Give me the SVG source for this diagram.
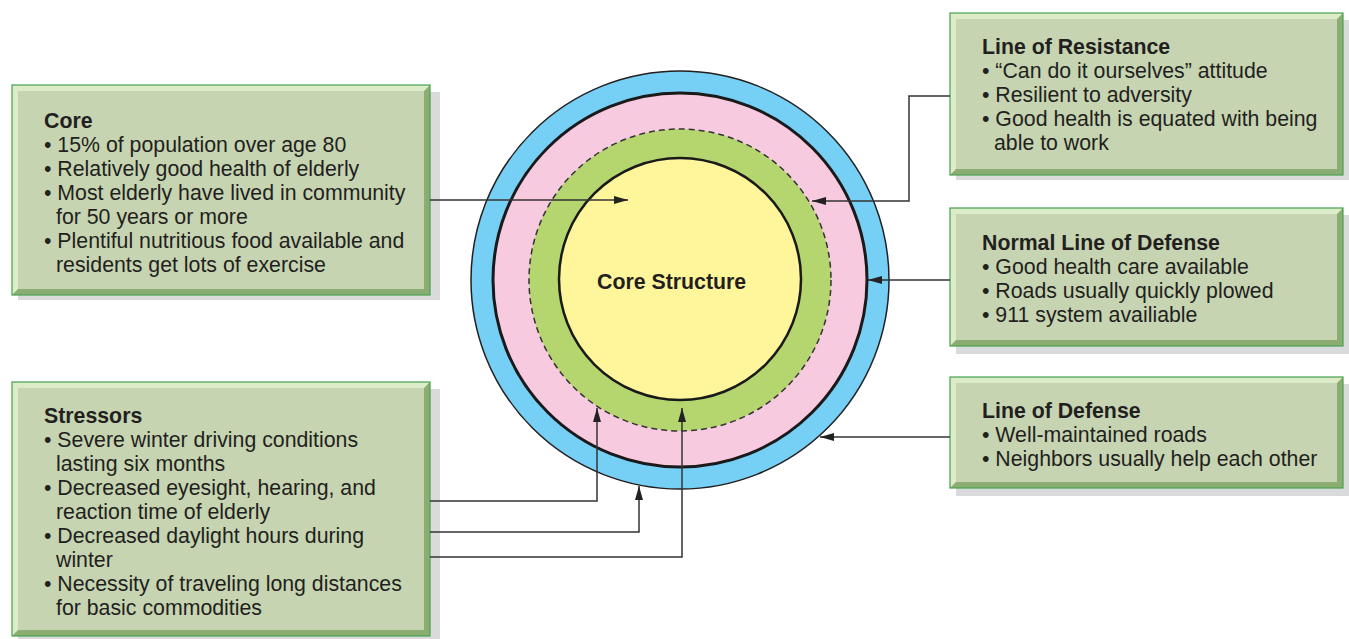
<svg xmlns="http://www.w3.org/2000/svg" width="1349" height="639" viewBox="0 0 1349 639">
<defs>
<style>
.sh{fill:#d9dadc}
.lt{fill:#dcebc8}
.dk{fill:#8cad72}
.in{fill:#c6d4b1}
.bd{fill:none;stroke:#45a24f;stroke-width:1.2}
.t{font-family:"Liberation Sans",Arial,sans-serif;font-size:21.3px;fill:#231f20}
.b{font-weight:bold}
.c{fill:none;stroke:#333;stroke-width:1.5}
</style>
<marker id="ah" viewBox="0 0 14 8" refX="14" refY="4" markerWidth="14" markerHeight="8" markerUnits="userSpaceOnUse" orient="auto">
<path d="M0,0 L14,4 L0,8 Z" fill="#222"/>
</marker>
</defs>
<rect width="1349" height="639" fill="#fff"/>

<g id="circles">
<circle cx="680" cy="280" r="209" fill="#76cff5" stroke="#231f20" stroke-width="1.5"/>
<circle cx="680" cy="280" r="187" fill="#f8cadf" stroke="#1a1a1a" stroke-width="3"/>
<circle cx="680" cy="280" r="151" fill="#b5d56f" stroke="#333" stroke-width="1.5" stroke-dasharray="6 4"/>
<circle cx="680" cy="279" r="121" fill="#fff59b" stroke="#1a1a1a" stroke-width="2.5"/>
<text class="t b" x="597" y="289">Core Structure</text>
</g>

<g id="core">
<rect class="sh" x="18" y="92" width="422" height="208"/>
<rect class="lt" x="12" y="85" width="418" height="210"/>
<polygon class="dk" points="430,85 430,295 12,295 18,289 424,289 424,91"/>
<rect class="in" x="18" y="91" width="406" height="198"/>
<rect class="bd" x="12" y="85" width="418" height="210"/>
<text class="t b" x="44" y="128">Core</text>
<text class="t" x="44" y="152">• 15% of population over age 80</text>
<text class="t" x="44" y="176">• Relatively good health of elderly</text>
<text class="t" x="44" y="200">• Most elderly have lived in community</text>
<text class="t" x="56" y="224">for 50 years or more</text>
<text class="t" x="44" y="248">• Plentiful nutritious food available and</text>
<text class="t" x="56" y="272">residents get lots of exercise</text>
</g>

<g id="stressors">
<rect class="sh" x="18" y="389" width="422" height="250"/>
<rect class="lt" x="12" y="382" width="418" height="254"/>
<polygon class="dk" points="430,382 430,636 12,636 18,630 424,630 424,388"/>
<rect class="in" x="18" y="388" width="406" height="242"/>
<rect class="bd" x="12" y="382" width="418" height="254"/>
<text class="t b" x="44" y="423">Stressors</text>
<text class="t" x="44" y="447">• Severe winter driving conditions</text>
<text class="t" x="56" y="471">lasting six months</text>
<text class="t" x="44" y="495">• Decreased eyesight, hearing, and</text>
<text class="t" x="56" y="519">reaction time of elderly</text>
<text class="t" x="44" y="543">• Decreased daylight hours during</text>
<text class="t" x="56" y="567">winter</text>
<text class="t" x="44" y="591">• Necessity of traveling long distances</text>
<text class="t" x="56" y="615">for basic commodities</text>
</g>

<g id="resistance">
<rect class="sh" x="956" y="20" width="393" height="160"/>
<rect class="lt" x="950" y="13" width="393" height="162"/>
<polygon class="dk" points="1343,13 1343,175 950,175 956,169 1337,169 1337,19"/>
<rect class="in" x="956" y="19" width="381" height="150"/>
<rect class="bd" x="950" y="13" width="393" height="162"/>
<text class="t b" x="982" y="54">Line of Resistance</text>
<text class="t" x="982" y="78">• “Can do it ourselves” attitude</text>
<text class="t" x="982" y="102">• Resilient to adversity</text>
<text class="t" x="982" y="126">• Good health is equated with being</text>
<text class="t" x="994" y="150">able to work</text>
</g>

<g id="normal">
<rect class="sh" x="956" y="215" width="393" height="139"/>
<rect class="lt" x="950" y="208" width="393" height="138"/>
<polygon class="dk" points="1343,208 1343,346 950,346 956,340 1337,340 1337,214"/>
<rect class="in" x="956" y="214" width="381" height="126"/>
<rect class="bd" x="950" y="208" width="393" height="138"/>
<text class="t b" x="982" y="250">Normal Line of Defense</text>
<text class="t" x="982" y="274">• Good health care available</text>
<text class="t" x="982" y="298">• Roads usually quickly plowed</text>
<text class="t" x="982" y="322">• 911 system availiable</text>
</g>

<g id="defense">
<rect class="sh" x="956" y="384" width="393" height="112"/>
<rect class="lt" x="950" y="377" width="393" height="111"/>
<polygon class="dk" points="1343,377 1343,488 950,488 956,482 1337,482 1337,383"/>
<rect class="in" x="956" y="383" width="381" height="99"/>
<rect class="bd" x="950" y="377" width="393" height="111"/>
<text class="t b" x="982" y="418">Line of Defense</text>
<text class="t" x="982" y="442">• Well-maintained roads</text>
<text class="t" x="982" y="466">• Neighbors usually help each other</text>
</g>

<g id="connectors">
<path class="c" d="M430,200 H628" marker-end="url(#ah)"/>
<path class="c" d="M950,96 H909 V201 H812" marker-end="url(#ah)"/>
<path class="c" d="M950,280 H868" marker-end="url(#ah)"/>
<path class="c" d="M950,437 H820" marker-end="url(#ah)"/>
<path class="c" d="M430,501 H597 V408" marker-end="url(#ah)"/>
<path class="c" d="M430,532 H639 V486" marker-end="url(#ah)"/>
<path class="c" d="M430,557 H682 V408" marker-end="url(#ah)"/>
</g>
</svg>
